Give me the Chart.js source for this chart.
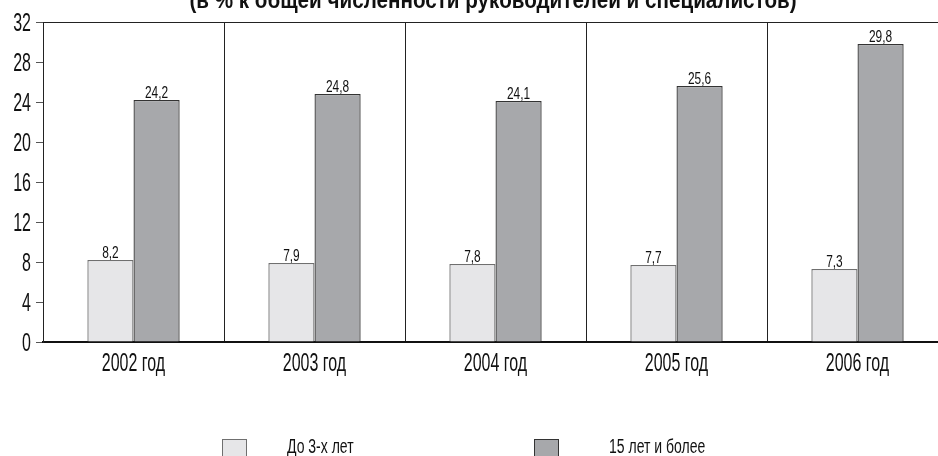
<!DOCTYPE html>
<html>
<head>
<meta charset="utf-8">
<script src="https://cdn.jsdelivr.net/npm/chart.js@4"></script>
<style>
  html, body { margin: 0; padding: 0; background: #fff; }
  #wrap { width: 938px; height: 456px; overflow: hidden; position: relative; }
  #chart { position: absolute; left: 0; top: 0; }
</style>
</head>
<body>
<div id="wrap"><canvas id="chart" width="950" height="456"></canvas></div>
<script>
const years = ["2002 год", "2003 год", "2004 год", "2005 год", "2006 год"];
const under3 = [8.2, 7.9, 7.8, 7.7, 7.3];
const over15 = [24.2, 24.8, 24.1, 25.6, 29.8];
const seriesNames = ["До 3-х лет", "15 лет и более"];
const yTicks = [0, 4, 8, 12, 16, 20, 24, 28, 32];
const title = "(в % к общей численности руководителей и специалистов)";

const FONT = "'Liberation Sans', Arial, sans-serif";

// condensed lettering: regular face squeezed horizontally
function squeezed(ctx, text, x, y, size, opts = {}) {
  ctx.save();
  ctx.font = (opts.bold ? "bold " : "") + size + "px " + FONT;
  ctx.textAlign = opts.align || "center";
  ctx.textBaseline = opts.baseline || "alphabetic";
  ctx.fillStyle = "#111";
  ctx.translate(x, y);
  ctx.scale(opts.sx || 0.66, 1);
  ctx.fillText(text, 0, 0);
  ctx.restore();
}

const extras = {
  id: "extras",
  afterDraw(chart) {
    const ctx = chart.ctx;
    const xs = chart.scales.x, ys = chart.scales.y;

    squeezed(ctx, title, 493, 8, 24, { bold: true, sx: 0.86 });

    yTicks.forEach(v => {
      squeezed(ctx, String(v), 31, ys.getPixelForValue(v) + 9, 25, { align: "right", sx: 0.64 });
    });
    chart.data.labels.forEach((lab, i) => {
      squeezed(ctx, lab, xs.getPixelForValue(i), 371, 25, { sx: 0.64 });
    });

    chart.data.datasets.forEach((ds, i) => {
      chart.getDatasetMeta(i).data.forEach((bar, j) => {
        squeezed(ctx, String(ds.data[j]).replace(".", ","), bar.x, bar.y - 2, 17, { sx: 0.7 });
      });
    });

    const boxX = [222, 534];
    const textX = [287, 609];
    chart.data.datasets.forEach((ds, i) => {
      ctx.save();
      ctx.fillStyle = ds.backgroundColor;
      ctx.fillRect(boxX[i], 439, 25, 24);
      ctx.strokeStyle = ds.borderColor;
      ctx.lineWidth = 1;
      ctx.strokeRect(boxX[i] + 0.5, 439.5, 24, 24);
      ctx.restore();
      squeezed(ctx, ds.label, textX[i], 453, 20, { align: "left", sx: 0.7 });
    });
  }
};

new Chart(document.getElementById("chart"), {
  type: "bar",
  data: {
    labels: years,
    datasets: [
      { label: seriesNames[0], data: under3, backgroundColor: "#e6e6e8", borderColor: "#6f6f6f", borderWidth: 1.3 },
      { label: seriesNames[1], data: over15, backgroundColor: "#a7a8ab", borderColor: "#333", borderWidth: 1.3 }
    ]
  },
  options: {
    responsive: false,
    animation: false,
    layout: { padding: { top: 22, right: 2, bottom: 84, left: 0 } },
    datasets: { bar: { categoryPercentage: 0.51, barPercentage: 1 } },
    plugins: { legend: { display: false }, tooltip: { enabled: false } },
    scales: {
      x: {
        afterFit: s => { s.height = 30; },
        grid: { offset: true, color: "#222", lineWidth: 1, drawTicks: false },
        border: { color: "#111", width: 2 },
        ticks: { display: false }
      },
      y: {
        min: 0, max: 32,
        afterFit: s => { s.width = 43; },
        afterBuildTicks: s => { s.ticks = yTicks.map(v => ({ value: v })); },
        grid: {
          color: c => (c.tick && c.tick.value === 32 ? "#222" : "transparent"),
          tickColor: "#555",
          tickLength: 7
        },
        border: { color: "#222", width: 1 },
        ticks: { display: false }
      }
    }
  },
  plugins: [extras]
});
</script>
</body>
</html>
